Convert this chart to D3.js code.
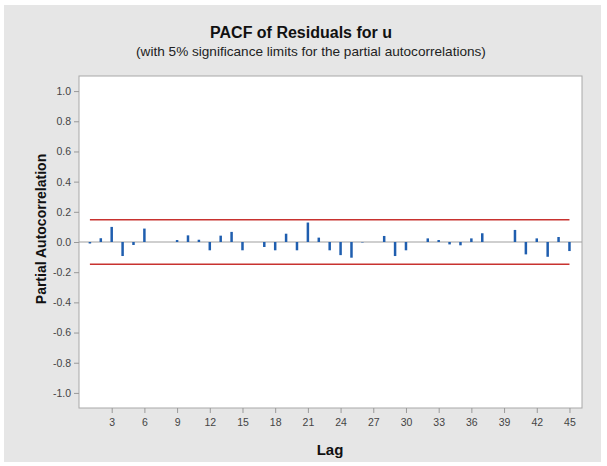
<!DOCTYPE html>
<html><head><meta charset="utf-8">
<script src="https://cdn.jsdelivr.net/npm/d3@7"></script>
<style>body{margin:0;background:#fff}svg{display:block}</style>
</head><body>
<script>
const lags = d3.range(1, 46);
const pacf = [-0.01, 0.025, 0.10, -0.093, -0.02, 0.089, 0.0, 0.0, 0.013, 0.044,
  0.015, -0.055, 0.042, 0.067, -0.055, 0.0, -0.033, -0.055, 0.055, -0.055,
  0.129, 0.029, -0.055, -0.087, -0.104, -0.003, 0.0, 0.04, -0.093, -0.055,
  0.0, 0.024, 0.013, -0.016, -0.022, 0.024, 0.058, 0.0, 0.0, 0.08,
  -0.082, 0.024, -0.098, 0.033, -0.06];
const sigLimit = 0.148;
const xTicks = [3,6,9,12,15,18,21,24,27,30,33,36,39,42,45];
const yTicks = [1.0,0.8,0.6,0.4,0.2,0.0,-0.2,-0.4,-0.6,-0.8,-1.0];
const titleText = "PACF of Residuals for u";
const subtitleText = "(with 5% significance limits for the partial autocorrelations)";
const xLabel = "Lag";
const yLabel = "Partial Autocorrelation";

const W = 607, H = 466;
const svg = d3.select("body").append("svg").attr("width", W).attr("height", H);
svg.append("rect").attr("x", 4).attr("y", 5).attr("width", 597).attr("height", 457).attr("fill", "#e6e6e6");

const L = 79, R = 582, T = 76, B = 408;
const x = d3.scaleLinear().domain([0, 46.15]).range([L, R]);
const y = d3.scaleLinear().domain([-1.1, 1.1]).range([B, T]);

svg.append("rect").attr("x", L).attr("y", T).attr("width", R - L).attr("height", B - T)
  .attr("fill", "#fff").attr("stroke", "#a8a8a8").attr("stroke-width", 1);

const font = "Liberation Sans, Arial, sans-serif";

// axes
const yAxis = svg.append("g").attr("transform", `translate(${L},0)`)
  .call(d3.axisLeft(y).tickValues(yTicks).tickFormat(d3.format(".1f")).tickSize(5).tickSizeOuter(0));
const xAxis = svg.append("g").attr("transform", `translate(0,${B})`)
  .call(d3.axisBottom(x).tickValues(xTicks).tickFormat(d3.format("d")).tickSize(5).tickSizeOuter(0));
[yAxis, xAxis].forEach(g => {
  g.select(".domain").remove();
  g.selectAll(".tick line").attr("stroke", "#999");
  g.selectAll(".tick text").attr("fill", "#444").style("font-family", font).style("font-size", "10.5px");
});
yAxis.selectAll(".tick text").text(d => d3.format(".1f")(d).replace("−", "-"));
xAxis.selectAll(".tick text").attr("dy", "0.95em");

// zero line
svg.append("line").attr("x1", L).attr("x2", R).attr("y1", y(0)).attr("y2", y(0))
  .attr("stroke", "#a0a0a0").attr("stroke-width", 1.2);

// significance limits
[sigLimit, -sigLimit].forEach(v => {
  svg.append("line").attr("x1", x(1)).attr("x2", x(45)).attr("y1", y(v)).attr("y2", y(v))
    .attr("stroke", "#c8322f").attr("stroke-width", 1.5);
});

// bars
svg.append("g").selectAll("line").data(lags.map((l, i) => ({l, v: pacf[i]})).filter(d => d.v !== 0))
  .join("line")
  .attr("x1", d => x(d.l)).attr("x2", d => x(d.l))
  .attr("y1", y(0)).attr("y2", d => y(d.v))
  .attr("stroke", "#1f5eaf").attr("stroke-width", 2.5);

// titles
svg.append("text").attr("x", 301).attr("y", 38).attr("text-anchor", "middle")
  .style("font-family", font).style("font-size", "16px").style("font-weight", "bold").attr("fill", "#111")
  .text(titleText);
svg.append("text").attr("x", 311).attr("y", 56).attr("text-anchor", "middle")
  .style("font-family", font).style("font-size", "13.6px").attr("fill", "#222")
  .text(subtitleText);
svg.append("text").attr("x", 330).attr("y", 455).attr("text-anchor", "middle")
  .style("font-family", font).style("font-size", "15px").style("font-weight", "bold").attr("fill", "#111")
  .text(xLabel);
svg.append("text").attr("transform", `translate(46,229) rotate(-90)`).attr("text-anchor", "middle")
  .style("font-family", font).style("font-size", "14px").style("font-weight", "bold").attr("fill", "#111")
  .text(yLabel);
</script>
</body></html>
